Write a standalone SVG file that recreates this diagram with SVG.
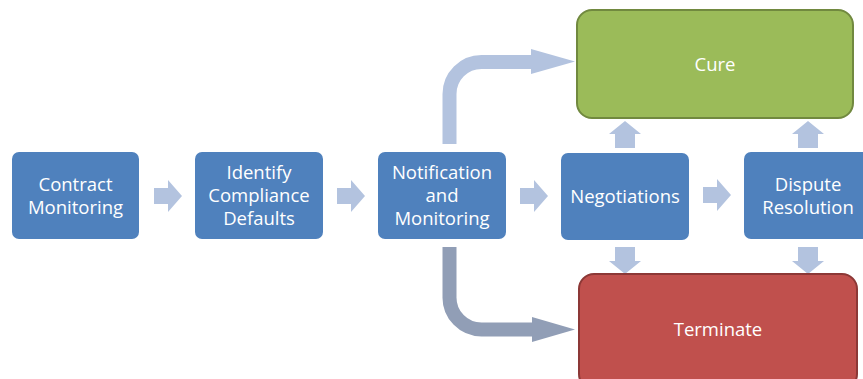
<svg xmlns="http://www.w3.org/2000/svg" width="863" height="379" viewBox="0 0 863 379">
<style>
.box{fill:#4F81BD;}
.t{font-family:"Open Sans","Liberation Sans",sans-serif;font-size:18.5px;fill:#FFFFFF;text-anchor:middle;dominant-baseline:central;}
.la{fill:#B3C3DF;}
.lc{fill:none;stroke:#B3C3DF;stroke-width:14;}
.dc{fill:none;stroke:#919EB6;stroke-width:14;}
.da{fill:#919EB6;}
</style>
<rect width="863" height="379" fill="#FFFFFF"/>
<g id="connectors">
  <path class="lc" d="M449.5 144 V94 A32 32 0 0 1 481.5 62 H532"/>
  <polygon class="la" points="531,49 575,61.5 531,74"/>
  <path class="dc" d="M449.5 247 V297 A32 32 0 0 0 481.5 329.5 H533"/>
  <polygon class="da" points="532,317 575,329.5 532,342"/>
  <polygon class="la" points="154,188 168,188 168,180 182,196 168,212 168,204 154,204"/>
  <polygon class="la" points="337,188 351,188 351,180 365,196 351,212 351,204 337,204"/>
  <polygon class="la" points="520,188 534,188 534,180 548,196 534,212 534,204 520,204"/>
  <polygon class="la" points="703,187 717,187 717,179 731,195 717,211 717,203 703,203"/>
  <polygon class="la" points="615,148 615,134 609,134 625,121 641,134 635,134 635,148"/>
  <polygon class="la" points="798,148 798,134 792,134 808,121 824,134 818,134 818,148"/>
  <polygon class="la" points="615,247 615,261 609,261 625,274 641,261 635,261 635,247"/>
  <polygon class="la" points="798,247 798,261 792,261 808,274 824,261 818,261 818,247"/>
</g>
<g id="cure">
  <rect x="577" y="10" width="276" height="108" rx="15" fill="#9BBB59" stroke="#71893F" stroke-width="2"/>
  <text class="t" x="715" y="63">Cure</text>
</g>
<g id="terminate">
  <rect x="579" y="274" width="278" height="115" rx="15" fill="#C0504D" stroke="#8C3836" stroke-width="2"/>
  <text class="t" x="718" y="328">Terminate</text>
</g>
<g id="contract-monitoring">
  <rect class="box" x="12" y="152" width="127" height="87" rx="7"/>
  <text class="t" x="75.5" y="183">Contract</text>
  <text class="t" x="75.5" y="206">Monitoring</text>
</g>
<g id="identify-defaults">
  <rect class="box" x="195" y="152" width="128" height="87" rx="7"/>
  <text class="t" x="259" y="171">Identify</text>
  <text class="t" x="259" y="194">Compliance</text>
  <text class="t" x="259" y="217">Defaults</text>
</g>
<g id="notification">
  <rect class="box" x="378" y="152" width="128" height="87" rx="7"/>
  <text class="t" x="442" y="171">Notification</text>
  <text class="t" x="442" y="194">and</text>
  <text class="t" x="442" y="217">Monitoring</text>
</g>
<g id="negotiations">
  <rect class="box" x="561" y="153" width="128" height="87" rx="7"/>
  <text class="t" x="625" y="195">Negotiations</text>
</g>
<g id="dispute-resolution">
  <rect class="box" x="744" y="152" width="128" height="87" rx="7"/>
  <text class="t" x="808" y="183">Dispute</text>
  <text class="t" x="808" y="206">Resolution</text>
</g>
</svg>
